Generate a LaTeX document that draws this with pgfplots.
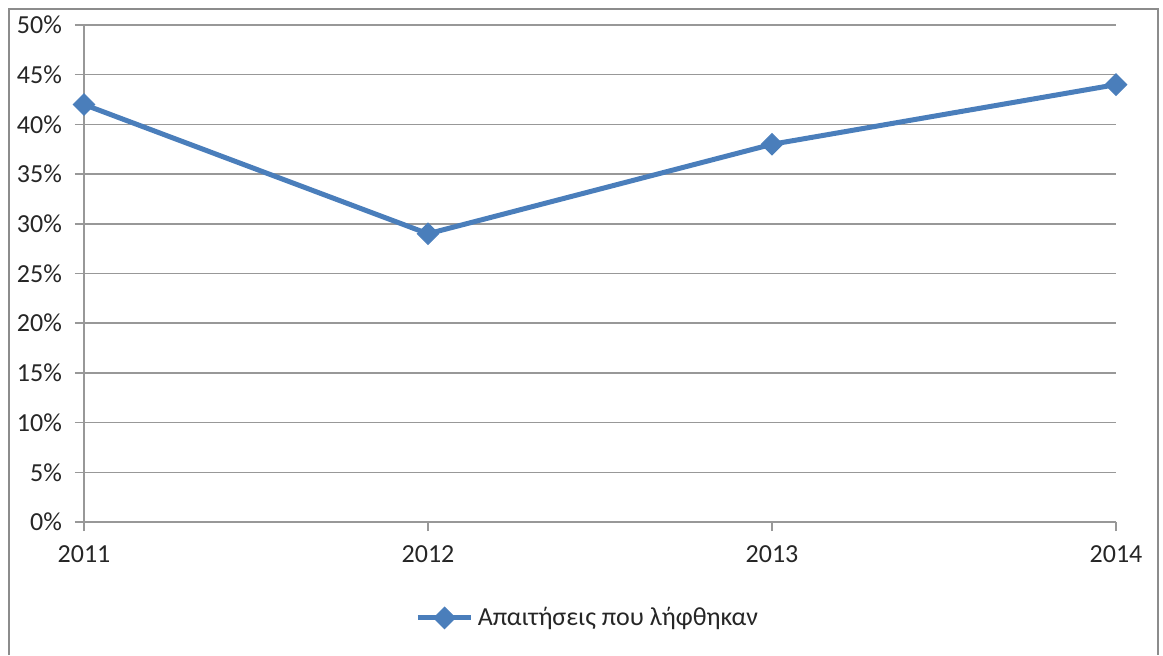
\documentclass[border=0pt]{standalone}
\usepackage{fontspec}
\setmainfont{Carlito}
\usepackage{pgfplots}
\pgfplotsset{compat=1.18}
\definecolor{ser}{HTML}{4A7EBB}
\definecolor{gridc}{HTML}{989898}
\definecolor{framec}{HTML}{8C8C8C}
\definecolor{txt}{HTML}{262626}
\begin{document}
\begin{tikzpicture}
\path[use as bounding box] (0pt,0pt) rectangle (581.5pt,327.5pt);
\draw[framec, line width=1.2pt] (4.5pt,0pt) -- (4.5pt,323pt) -- (579pt,323pt) -- (579pt,0pt);
\begin{axis}[
  at={(42pt,66.5pt)}, anchor=south west,
  scale only axis, width=516pt, height=248.5pt,
  xmin=0, xmax=3, ymin=0, ymax=50,
  xtick={0,1,2,3}, xticklabels={2011,2012,2013,2014},
  ytick={0,5,...,50},
  yticklabel={\pgfmathprintnumber{\tick}\%},
  /pgf/number format/assume math mode=true,
  axis lines*=left,
  axis line style={gridc, line width=0.75pt},
  ymajorgrids, grid style={gridc, line width=0.75pt},
  tick align=outside, major tick length=4.5pt,
  tick style={gridc, line width=0.75pt},
  ticklabel style={font=\fontsize{13}{15}\selectfont, text=txt},
  yticklabel style={xshift=-3pt},
  xticklabel style={yshift=-4pt},
  clip=false,
  legend style={at={(axis description cs:0.489,-0.193)}, anchor=center, draw=none, fill=none,
    font=\fontsize{13}{15}\selectfont, text=txt, inner sep=0pt},
  legend cell align=left,
  legend image code/.code={\draw[mark repeat=2,mark phase=2] plot coordinates {(0cm,0cm)(0.47cm,0cm)(0.94cm,0cm)};},
]
\addplot[ser, line width=2.5pt, mark=square*, mark size=3.8pt, mark options={rotate=45, solid, line width=0.5pt, fill=ser}]
  coordinates {(0,42) (1,29) (2,38) (3,44)};
\addlegendentry{Απαιτήσεις που λήφθηκαν}
\end{axis}
\end{tikzpicture}
\end{document}
